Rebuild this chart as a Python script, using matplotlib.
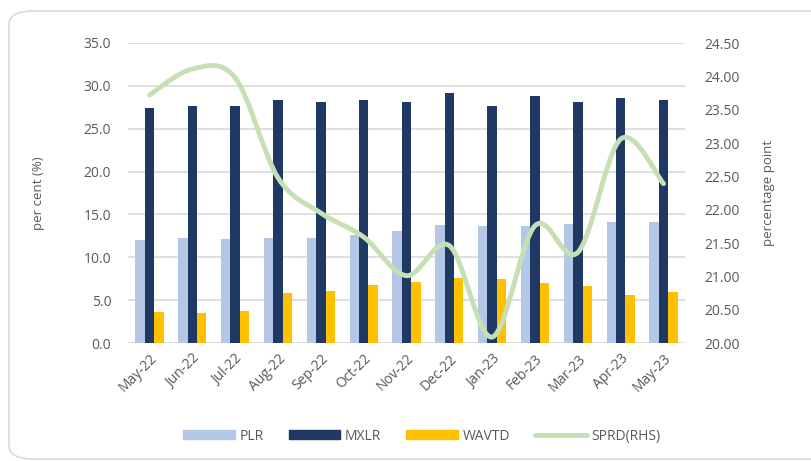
import matplotlib

matplotlib.use("Agg")

import matplotlib.pyplot as plt
import numpy as np
from matplotlib.lines import Line2D
from matplotlib.patches import FancyBboxPatch, PathPatch, Patch
from matplotlib.path import Path

months = ["May-22", "Jun-22", "Jul-22", "Aug-22", "Sep-22", "Oct-22", "Nov-22",
          "Dec-22", "Jan-23", "Feb-23", "Mar-23", "Apr-23", "May-23"]
plr = [12.0, 12.3, 12.1, 12.2, 12.2, 12.6, 13.1, 13.8, 13.7, 13.6, 13.9, 14.1, 14.1]
mxlr = [27.4, 27.6, 27.6, 28.3, 28.1, 28.3, 28.1, 29.2, 27.6, 28.8, 28.1, 28.6, 28.3]
wavtd = [3.6, 3.5, 3.7, 5.8, 6.1, 6.8, 7.1, 7.6, 7.5, 7.0, 6.7, 5.6, 5.9]
sprd = [23.72, 24.11, 23.98, 22.48, 21.95, 21.59, 21.01, 21.46, 20.09, 21.76, 21.36, 23.06, 22.39]

C_PLR = "#B4C7E7"
C_MXLR = "#1F3864"
C_WAVTD = "#FFC000"
C_SPRD = "#C5E0B4"
GREY = "#595959"
FONT = ["Open Sans", "DejaVu Sans"]

plt.rcParams["font.family"] = FONT


def smooth_path(xs, ys):
    """Excel-like smoothed line: Catmull-Rom segments as cubic Beziers."""
    xs = np.asarray(xs, float)
    ys = np.asarray(ys, float)
    n = len(xs)
    verts = [(xs[0], ys[0])]
    codes = [Path.MOVETO]
    for i in range(n - 1):
        i0 = max(i - 1, 0)
        i3 = min(i + 2, n - 1)
        c1 = (xs[i] + (xs[i + 1] - xs[i0]) / 6, ys[i] + (ys[i + 1] - ys[i0]) / 6)
        c2 = (xs[i + 1] - (xs[i3] - xs[i]) / 6, ys[i + 1] - (ys[i3] - ys[i]) / 6)
        verts += [c1, c2, (xs[i + 1], ys[i + 1])]
        codes += [Path.CURVE4] * 3
    return Path(verts, codes)


fig = plt.figure(figsize=(8.12, 4.61), dpi=100)

# rounded chart frame, running off the right/bottom edges
frame = FancyBboxPatch((9 / 812, 1 - 459 / 461), 830 / 812, 448 / 461,
                       boxstyle="round,pad=0,rounding_size=0.03",
                       transform=fig.transFigure, facecolor="none",
                       edgecolor="#D9D9D9", linewidth=1.2, zorder=-1)
fig.patches.append(frame)

ax = fig.add_axes([128 / 812, 1 - 343 / 461, 557 / 812, 300 / 461])
ax.set_facecolor("none")
x = np.arange(len(months))
w = 0.22
ax.bar(x - w, plr, w, color=C_PLR, zorder=2)
ax.bar(x, mxlr, w, color=C_MXLR, zorder=2)
ax.bar(x + w, wavtd, w, color=C_WAVTD, zorder=2)

ax.set_ylim(0, 35)
ax.set_yticks(np.arange(0, 35.1, 5))
ax.set_yticklabels([f"{v:.1f}" for v in np.arange(0, 35.1, 5)])
ax.set_xlim(-0.5, len(months) - 0.5)
ax.set_xticks(x)
ax.set_xticklabels(months, rotation=45, ha="right", rotation_mode="anchor")
ax.yaxis.grid(True, color="#D9D9D9", linewidth=1.2, zorder=0)
ax.set_axisbelow(True)
for s in ax.spines.values():
    s.set_visible(False)
ax.tick_params(axis="both", length=0, colors=GREY, labelsize=10)
ax.tick_params(axis="y", pad=12)
ax.tick_params(axis="x", pad=6)
ax.set_ylabel("per cent (%)", color=GREY, fontsize=9.5, labelpad=28)

ax2 = ax.twinx()
ax2.set_ylim(20, 24.5)
ax2.set_yticks(np.arange(20, 24.51, 0.5))
ax2.set_yticklabels([f"{v:.2f}" for v in np.arange(20, 24.51, 0.5)])
for s in ax2.spines.values():
    s.set_visible(False)
ax2.tick_params(axis="y", length=0, colors=GREY, labelsize=10, pad=14)
ax2.set_ylabel("percentage point", color=GREY, fontsize=9.5, labelpad=16)
ax2.add_patch(PathPatch(smooth_path(x, sprd), facecolor="none", edgecolor=C_SPRD,
                        linewidth=3.5, capstyle="round", zorder=3))

handles = [Patch(color=C_PLR), Patch(color=C_MXLR), Patch(color=C_WAVTD),
           Line2D([], [], color=C_SPRD, linewidth=3.5, solid_capstyle="round")]
fig.legend(handles, ["PLR", "MXLR", "WAVTD", "SPRD(RHS)"], ncol=4,
           loc="center", bbox_to_anchor=(422 / 812, 1 - 436 / 461), frameon=False,
           fontsize=10, labelcolor=GREY, handlelength=3.7, handleheight=0.65,
           handletextpad=0.35, columnspacing=1.8)

fig.savefig("out.png", dpi=100)
plt.close(fig)
